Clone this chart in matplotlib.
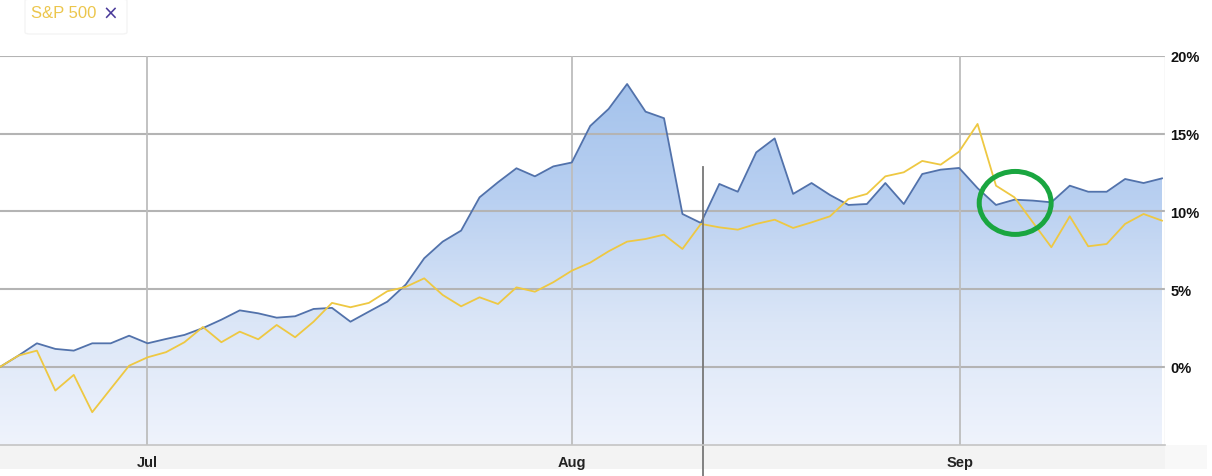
import matplotlib
matplotlib.use("Agg")
import matplotlib.pyplot as plt
import numpy as np
from matplotlib.patches import Ellipse, Rectangle, FancyBboxPatch
from matplotlib.lines import Line2D
import matplotlib.transforms as mtransforms
from matplotlib.colors import LinearSegmentedColormap

# ---- data (percent change, one point per trading day) ----
fund = [0.0, 0.73, 1.52, 1.16, 1.05, 1.52, 1.52, 2.01, 1.52, 1.8,
        2.06, 2.5, 3.04, 3.64, 3.45, 3.17, 3.26, 3.73, 3.8, 2.91,
        3.56, 4.2, 5.3, 6.99, 8.06, 8.77, 10.91, 11.88, 12.78, 12.26,
        12.9, 13.15, 15.5, 16.6, 18.2, 16.42, 16.0, 9.84, 9.26, 11.77,
        11.27, 13.8, 14.7, 11.13, 11.83, 11.06, 10.42, 10.48, 11.83, 10.48,
        12.41, 12.69, 12.8, 11.5, 10.42, 10.76, 10.7, 10.59, 11.66, 11.27,
        11.27, 12.09, 11.83, 12.13]
sp500 = [0.0, 0.73, 1.05, -1.52, -0.51, -2.91, -1.41, 0.08, 0.62, 0.95,
         1.59, 2.57, 1.59, 2.27, 1.78, 2.7, 1.91, 2.91, 4.12, 3.84,
         4.12, 4.87, 5.15, 5.7, 4.63, 3.9, 4.48, 4.05, 5.12, 4.84,
         5.45, 6.19, 6.71, 7.44, 8.06, 8.23, 8.51, 7.59, 9.2, 8.98,
         8.83, 9.2, 9.47, 8.94, 9.3, 9.69, 10.8, 11.13, 12.26, 12.52,
         13.25, 13.01, 13.85, 15.63, 11.66, 10.91, 9.3, 7.7, 9.69, 7.76,
         7.91, 9.2, 9.84, 9.41]
month_labels = ["Jul", "Aug", "Sep"]
month_pos = [7.97, 31.02, 52.06]
y_ticks = [0, 5, 10, 15, 20]
y_tick_labels = ["0%", "5%", "10%", "15%", "20%"]
cursor_pos = 38.12
legend_label = "S&P 500"

x = np.arange(len(fund))

W, H = 1212, 477
fig = plt.figure(figsize=(W / 100, H / 100), dpi=100)
fig.patch.set_facecolor("white")

ax_left, ax_right = 0, 1165
ax_top, ax_bot = 57, 446
ax = fig.add_axes([ax_left / W, 1 - ax_bot / H, (ax_right - ax_left) / W, (ax_bot - ax_top) / H])
ax.set_xlim(0, 63 * 1165 / 1162)
ax.set_ylim(-5.02, 20)
ax.set_facecolor("white")

# gradient fill under the fund line
cmap = LinearSegmentedColormap.from_list("g", ["#eff3fc", "#dbe6f7", "#b9d0f1", "#a3c2ec"])
grad = np.linspace(0, 1, 256).reshape(-1, 1)
im = ax.imshow(grad, extent=[0, 63.2, -5.02, 18.6], origin="lower", aspect="auto",
               cmap=cmap, zorder=1)
poly = ax.fill_between(x, fund, -5.02, color="none", linewidth=0, zorder=1)
im.set_clip_path(poly.get_paths()[0], transform=ax.transData)

# gridlines
for yv in y_ticks:
    ax.axhline(yv, color="#b4b4b4", lw=1.5, zorder=2)
for mp in month_pos:
    ax.axvline(mp, color="#bdbdbd", lw=1.3, zorder=2)
ax.axvline(ax.get_xlim()[1], color="#dddddd", lw=1.0, zorder=2)

# series
ax.plot(x, fund, color="#5272ab", lw=1.3, zorder=4)
ax.plot(x, sp500, color="#eec842", lw=1.3, zorder=5)

# highlight circle
ax.add_patch(Ellipse((55.04, 10.55), width=3.9, height=4.05, fill=False,
                     edgecolor="#1aa640", lw=3.6, zorder=6))

# cursor line extending below axes
trans = mtransforms.blended_transform_factory(ax.transData, ax.transAxes)
ax.add_line(Line2D([cursor_pos, cursor_pos], [(ax_bot - 168) / (ax_bot - ax_top), (ax_bot - 477) / (ax_bot - ax_top)],
                   transform=trans, color="#777777", lw=1.3, clip_on=False, zorder=7))

for s in ax.spines.values():
    s.set_visible(False)

# y tick labels on right
ax.yaxis.tick_right()
ax.set_yticks(y_ticks)
ax.set_yticklabels(y_tick_labels)
ax.tick_params(axis="y", length=0, pad=4)
for t in ax.get_yticklabels():
    t.set_fontfamily(["Liberation Sans Narrow", "Liberation Sans", "DejaVu Sans"])
    t.set_fontweight("bold")
    t.set_fontsize(10.5)
    t.set_color("#111111")

# month labels
ax.set_xticks(month_pos)
ax.set_xticklabels(month_labels)
ax.tick_params(axis="x", length=0, pad=7)
for t in ax.get_xticklabels():
    t.set_fontfamily(["Liberation Sans Narrow", "Liberation Sans", "DejaVu Sans"])
    t.set_fontweight("bold")
    t.set_fontsize(10.5)
    t.set_color("#222222")

# bottom band
fig.add_artist(Rectangle((0, 1 - 470 / H), 1165 / W, (470 - 446) / H, transform=fig.transFigure,
                         facecolor="#f3f3f3", edgecolor="none", zorder=0))
fig.add_artist(Rectangle((1165 / W, 1 - 470 / H), 42 / W, (470 - 446) / H, transform=fig.transFigure,
                         facecolor="#f8f8f8", edgecolor="none", zorder=0))
fig.add_artist(Line2D([0, 1165 / W], [1 - 446 / H, 1 - 446 / H], transform=fig.transFigure,
                      color="#c4c4c4", lw=1.2))

# legend box
fig.add_artist(FancyBboxPatch((25 / W, 1 - 35 / H), 102 / W, 35 / H, transform=fig.transFigure,
                              boxstyle="round,pad=0,rounding_size=0.004", facecolor="white",
                              edgecolor="#f4f4f4", lw=1.0))
fig.text(31 / W, 1 - 14 / H, legend_label, color="#ecc64c", fontsize=12,
         family=["Liberation Sans", "DejaVu Sans"], va="center", ha="left")
fig.text(110 / W, 1 - 14 / H, "×", color="#4a3a9a", fontsize=13.5,
         family=["DejaVu Sans"], va="center", ha="center")

fig.savefig("out.png", dpi=100, facecolor="white")
